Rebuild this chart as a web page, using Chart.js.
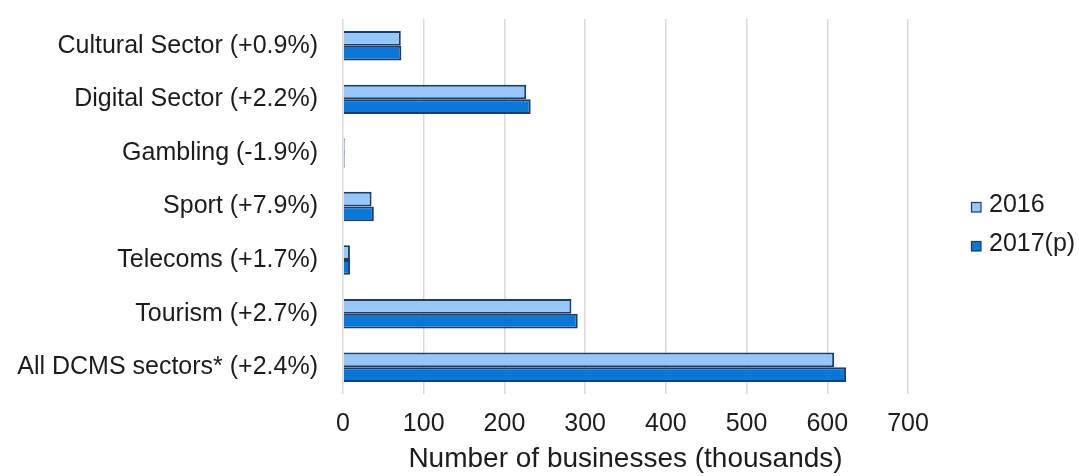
<!DOCTYPE html>
<html>
<head>
<meta charset="utf-8">
<script src="https://cdn.jsdelivr.net/npm/chart.js@4.4.0/dist/chart.umd.min.js"></script>
<style>
  html, body { margin: 0; padding: 0; background: #fff; }
  #wrap { width: 1079px; height: 476px; position: relative; }
</style>
</head>
<body>
<div id="wrap"><canvas id="businessChart" width="1079" height="476"></canvas></div>
<script>
// Sectors (labels include year-on-year change)
const sectors = [
  'Cultural Sector (+0.9%)',
  'Digital Sector (+2.2%)',
  'Gambling (-1.9%)',
  'Sport (+7.9%)',
  'Telecoms (+1.7%)',
  'Tourism (+2.7%)',
  'All DCMS sectors* (+2.4%)'
];

// Number of businesses, thousands
const values2016 = [71.6, 227, 2.1, 35.4, 8.6, 283, 608.5];
const values2017 = [72.3, 232.5, 2.06, 38.2, 8.75, 290.8, 623.3];

const seriesNames = ['2016', '2017(p)'];
const xTicks = [0, 100, 200, 300, 400, 500, 600, 700];

const lightBlue = '#97c7f8';
const darkBlue = '#0b78d8';
const edge = '#1b3d6b';
const textColor = '#1c1c1c';
const fontFamily = '"Liberation Sans", Arial, sans-serif';

// Legend drawn to the right of the plot, like the original
const sideLegend = {
  id: 'sideLegend',
  afterDraw(chart) {
    const ctx = chart.ctx;
    const baselines = [212, 251];
    ctx.save();
    ctx.font = '25px ' + fontFamily;
    ctx.textBaseline = 'alphabetic';
    chart.data.datasets.forEach((ds, i) => {
      const y = baselines[i];
      ctx.fillStyle = ds.backgroundColor;
      ctx.fillRect(971, y - 10, 10, 10);
      ctx.strokeStyle = ds.borderColor;
      ctx.lineWidth = 1.2;
      ctx.strokeRect(971.5, y - 9.5, 9.5, 9.5);
      ctx.fillStyle = textColor;
      ctx.fillText(ds.label, 989, y);
    });
    ctx.restore();
  }
};

const ctx = document.getElementById('businessChart').getContext('2d');
new Chart(ctx, {
  type: 'bar',
  data: {
    labels: sectors,
    datasets: [
      {
        label: seriesNames[0],
        data: values2016,
        backgroundColor: lightBlue,
        borderColor: edge,
        borderWidth: 2,
        barPercentage: 1,
        categoryPercentage: 0.55
      },
      {
        label: seriesNames[1],
        data: values2017,
        backgroundColor: darkBlue,
        borderColor: edge,
        borderWidth: 2,
        barPercentage: 1,
        categoryPercentage: 0.55
      }
    ]
  },
  options: {
    indexAxis: 'y',
    responsive: false,
    animation: false,
    layout: { padding: { top: 19, right: 171, left: 0, bottom: 0 } },
    plugins: {
      legend: { display: false },
      tooltip: { enabled: false }
    },
    scales: {
      x: {
        min: 0,
        max: 700,
        afterFit: (scale) => { scale.height = 82; },
        afterBuildTicks: (scale) => { scale.ticks = xTicks.map(v => ({ value: v })); },
        grid: {
          color: '#d9d9d9',
          lineWidth: 1.5,
          drawTicks: false
        },
        border: { display: false },
        ticks: {
          color: textColor,
          padding: 15,
          font: { family: fontFamily, size: 25 }
        },
        title: {
          display: true,
          text: 'Number of businesses (thousands)',
          color: textColor,
          padding: { top: 0, bottom: 0 },
          font: { family: fontFamily, size: 28 }
        }
      },
      y: {
        afterFit: (scale) => { scale.width = 343; },
        // tick marks are hidden with the grid; tickLength only spaces the labels
        grid: { display: false, drawTicks: true, tickLength: 25 },
        border: { display: false },
        ticks: {
          color: textColor,
          padding: 0,
          font: { family: fontFamily, size: 25 }
        }
      }
    }
  },
  plugins: [sideLegend]
});
</script>
</body>
</html>
